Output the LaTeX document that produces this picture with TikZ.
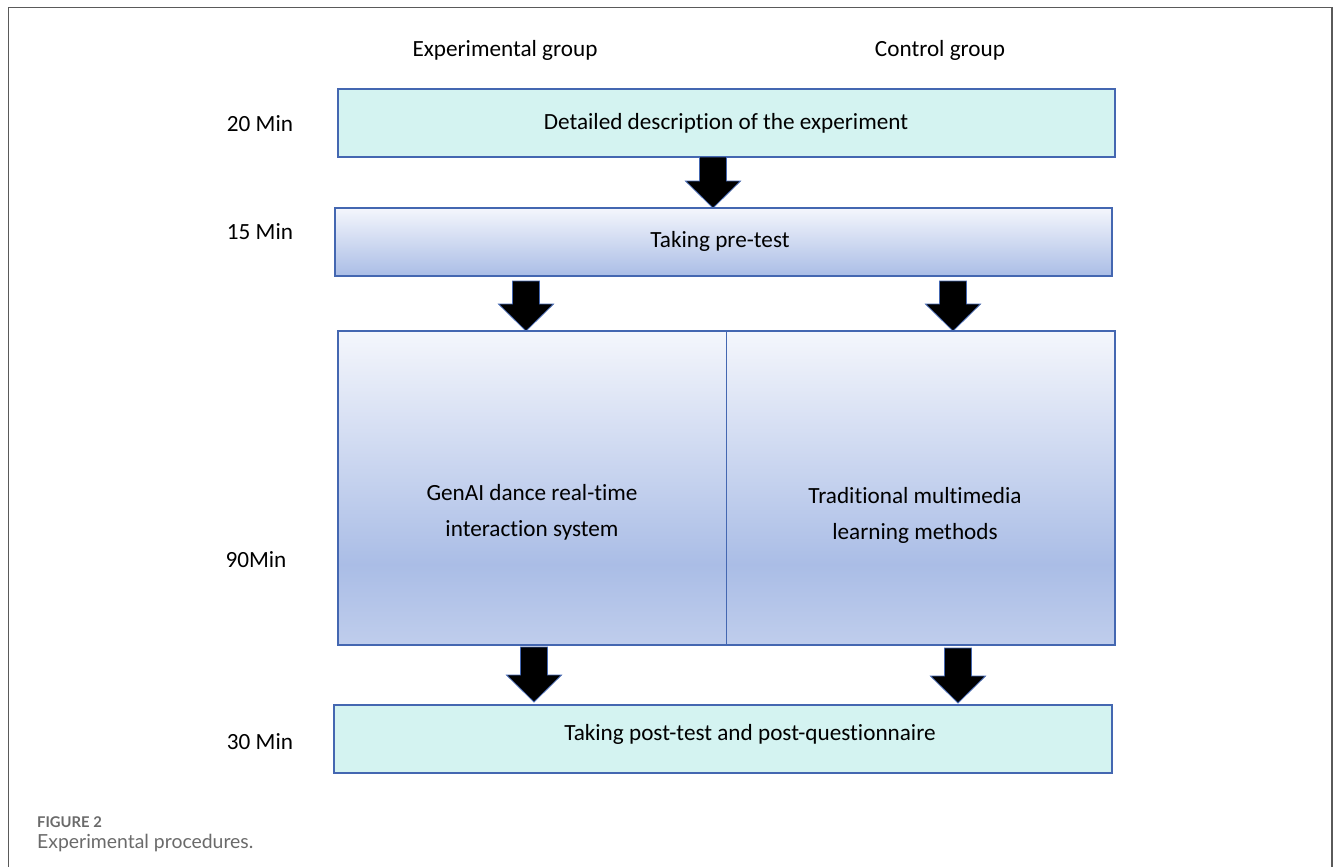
\documentclass[tikz,border=0pt]{standalone}
\usepackage{fontspec}
\setmainfont{Carlito}[Ligatures=NoCommon]
\newfontfamily\capfont{Lato}
\usetikzlibrary{calc}
\definecolor{boxblue}{HTML}{4467B1}
\definecolor{cyanfill}{HTML}{D4F3F1}
\definecolor{gradtop}{HTML}{F4F6FC}
\definecolor{gradmid}{HTML}{AABDE6}
\definecolor{gradbot}{HTML}{BFCDEC}
\definecolor{framegray}{HTML}{5A5A5A}
\definecolor{capgray}{HTML}{6A6A6A}
\tikzset{
  lbl/.style={font=\fontsize{23.2}{28}\selectfont, inner sep=0pt},
  flat/.style={draw=boxblue, line width=1.6pt, fill=cyanfill, inner sep=0pt},
  grad/.style={draw=boxblue, line width=1.2pt, inner sep=0pt, top color=gradtop, bottom color=gradmid},
  blk/.style={fill=black, draw=boxblue, line width=0.8pt, line join=miter}
}
\newcommand\blockarrow[2]{% #1 start, #2 tip
  \path let \p1=(#1), \p2=(#2) in
    [blk] (\x1-13.5,\y1) -- (\x1+13.5,\y1) -- (\x1+13.5,\y2+27) -- (\x1+27.5,\y2+27)
    -- (\x2,\y2) -- (\x1-27.5,\y2+27) -- (\x1-13.5,\y2+27) -- cycle;}
\begin{document}
\begin{tikzpicture}[x=1pt,y=-1pt]
\useasboundingbox (0,0) rectangle (1333,867);
% frame
\draw[framegray, line width=1.3pt] (8.5,867) -- (8.5,7.5) -- (1332,7.5) -- (1332,867);

% column headings
\node[lbl] (hexp) at (505,50) {Experimental group};
\node[lbl] (hctl) at (940,50) {Control group};

% time labels
\node[lbl] (t1) at (260,124) {20 Min};
\node[lbl] (t2) at (260,232) {15 Min};
\node[lbl] (t3) at (256,560) {90Min};
\node[lbl] (t4) at (260,742) {30 Min};

% boxes
\path[flat] (338,89) rectangle (1115,157);
\node[lbl] (b1) at (726,123) {Detailed description of the experiment};
\coordinate (b1s) at (713,157);

\path[grad] (335,208) rectangle (1112,276);
\node[lbl] (b2) at (720,241) {Taking pre-test};
\coordinate (b2n) at (713,208);
\coordinate (b2sl) at (526,281);
\coordinate (b2sr) at (953,281);

\fill[top color=gradtop, bottom color=gradmid] (339,332) rectangle (1114,565);
\fill[top color=gradmid, bottom color=gradbot] (339,564) rectangle (1114,644);
\draw[boxblue, line width=1.2pt] (338,331) rectangle (1115,645);
\draw[boxblue, line width=1pt] (726,331) -- (726,645);
\coordinate (b3nl) at (526,331);
\coordinate (b3nr) at (953,331);
\coordinate (b3sl) at (534,647);
\coordinate (b3sr) at (958,648);
\node[lbl, align=center] (b3l) at (532,512) {GenAI dance real-time\\[8pt]interaction system};
\node[lbl, align=center] (b3r) at (915,515) {Traditional multimedia\\[8pt]learning methods};

\path[flat] (334,705) rectangle (1112,773);
\node[lbl] (b4) at (750,734) {Taking post-test and post-questionnaire};
\coordinate (b4nl) at (534,702);
\coordinate (b4nr) at (958,703);

% block arrows
\blockarrow{b1s}{b2n}
\blockarrow{b2sl}{b3nl}
\blockarrow{b2sr}{b3nr}
\blockarrow{b3sl}{b4nl}
\blockarrow{b3sr}{b4nr}

% caption
\node[anchor=west, inner sep=0pt, text=capgray, font=\capfont\bfseries\fontsize{14.8}{17}\selectfont] (cap1) at (37,822) {FIGURE 2};
\node[anchor=west, inner sep=0pt, text=capgray, font=\capfont\fontsize{19.4}{22}\selectfont] (cap2) at (37,843) {Experimental procedures.};
\end{tikzpicture}
\end{document}
